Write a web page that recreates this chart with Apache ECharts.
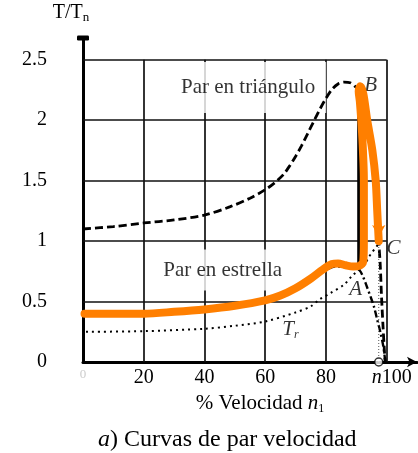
<!DOCTYPE html>
<html>
<head>
<meta charset="utf-8">
<title>Curvas de par velocidad</title>
<script src="https://cdn.jsdelivr.net/npm/echarts@6/dist/echarts.min.js"></script>
<style>
  html, body { margin: 0; padding: 0; background: #fff; }
  #main { width: 418px; height: 453px; }
</style>
</head>
<body>
<div id="main"></div>
<script>
// ejes
var xTicks = [0, 20, 40, 60, 80, 100]
var yTicks = [0, 0.5, 1, 1.5, 2, 2.5]

// curvas: [% velocidad, T/Tn]
var parTriangulo = [
  [0, 1.10], [10, 1.12], [20, 1.15], [30, 1.175], [40, 1.215], [48.5, 1.285], [55, 1.355],
  [60, 1.425], [63, 1.48], [66, 1.55], [68, 1.62], [70, 1.70], [72, 1.79], [74, 1.89],
  [76, 1.99], [78, 2.09], [80, 2.18], [82, 2.255], [84, 2.30], [86, 2.315], [88, 2.31],
  [90, 2.27], [91.5, 2.22], [92.8, 2.08], [94, 1.92], [95.5, 1.72], [96.5, 1.5],
  [97, 1.25], [97.4, 1.0], [97.9, 0.8], [98.3, 0.55], [98.8, 0.3], [99.2, 0.12], [99.5, 0]
]
var parEstrella = [
  [0, 0.39], [20, 0.39], [40, 0.42], [50, 0.45], [60, 0.50], [65, 0.54], [70, 0.60],
  [75, 0.68], [80, 0.76], [83, 0.79], [86, 0.785], [89, 0.775], [91, 0.76], [92, 0.72],
  [93.1, 0.65], [94.7, 0.54], [95.8, 0.46], [96.9, 0.35], [98, 0.24], [98.9, 0.13],
  [99.5, 0.02], [99.7, 0]
]
var parResistente = [
  [1, 0.25], [20, 0.255], [40, 0.275], [50, 0.30], [60, 0.335], [70, 0.41], [75, 0.46],
  [78, 0.52], [81.5, 0.57], [86, 0.64], [88.5, 0.71], [92.5, 0.80], [94.2, 0.87],
  [95.3, 0.91], [96.4, 0.945], [97.4, 0.98]
]
// recorrido del arranque estrella-triángulo (trazo naranja)
var arranque = [
  [0.5, 0.40], [10, 0.40], [20, 0.40], [30, 0.415], [40, 0.435], [50, 0.465], [60, 0.51],
  [65, 0.55], [70, 0.61], [75, 0.69], [79, 0.765], [82, 0.81], [84, 0.815], [86.5, 0.80],
  [89, 0.79], [91, 0.795], [92.3, 0.83], [92.5, 1.0], [92.5, 1.5], [91.9, 1.9], [91.2, 2.15],
  [90.8, 2.24], [91.3, 2.28], [92.3, 2.22], [93.6, 2.0], [95.3, 1.75], [96.4, 1.5],
  [96.9, 1.25], [97.2, 1.1], [97.4, 1.0]
]
var conmutacion = [[90.8, 0.76], [90.8, 2.27]] // A -> B
var nVelocidad = 97.4
var nPar = 0.98

var serif = '"Liberation Serif", "DejaVu Serif", serif'
var xMax = xTicks[xTicks.length - 1]
var yMax = yTicks[yTicks.length - 1]

// rejilla hasta 100 % y 2.5
var rejilla = []
yTicks.slice(1).forEach(function (y) {
  rejilla.push([{ coord: [0, y] }, { coord: [xMax, y] }])
})
xTicks.slice(1).forEach(function (x) {
  rejilla.push([{ coord: [x, 0] }, { coord: [x, yMax] }])
})

var ultimo = arranque[arranque.length - 1]
var arranqueData = arranque.slice(0, -1).concat([
  { value: ultimo, symbol: 'arrow', symbolSize: [10, 12], symbolRotate: 180, symbolOffset: [0, -4] }
])

var chart = echarts.init(document.getElementById('main'))
chart.setOption({
  animation: false,
  backgroundColor: '#fff',
  title: {
    text: '{i|a}) Curvas de par velocidad',
    left: 93,
    top: 423,
    textStyle: {
      fontFamily: serif, fontSize: 24, fontWeight: 'normal', color: '#000',
      rich: { i: { fontFamily: serif, fontSize: 24, fontStyle: 'italic', color: '#000' } }
    }
  },
  grid: { left: 83, right: 1, top: 38, bottom: 91, containLabel: false, outerBoundsMode: 'none' },
  xAxis: {
    type: 'value',
    min: 0,
    max: 110,
    interval: 20,
    name: '% Velocidad {i|n}{s|1}',
    nameLocation: 'middle',
    nameGap: 17,
    nameTextStyle: {
      fontFamily: serif, fontSize: 21, color: '#000', padding: [0, 0, 0, 20],
      rich: {
        i: { fontFamily: serif, fontSize: 21, fontStyle: 'italic', color: '#000' },
        s: { fontFamily: serif, fontSize: 12, color: '#000', padding: [11, 0, 0, 0] }
      }
    },
    axisLine: {
      show: true,
      symbol: ['none', 'arrow'],
      symbolSize: [8, 10],
      lineStyle: { color: '#000', width: 3 }
    },
    axisTick: { show: false },
    splitLine: { show: false },
    axisLabel: {
      margin: 6,
      fontFamily: serif,
      fontSize: 20,
      color: '#000',
      formatter: function (v) {
        if (v > xMax) return ''
        if (v === 0) return '{f|0}'
        if (v === xMax) return '{n|n}' + v
        return v
      },
      rich: {
        n: { fontFamily: serif, fontSize: 20, fontStyle: 'italic', color: '#000', padding: [0, 0, 0, 10] },
        f: { fontFamily: serif, fontSize: 13, color: '#ccc' }
      }
    }
  },
  yAxis: {
    type: 'value',
    min: 0,
    max: 2.68,
    interval: 0.5,
    name: '{a|T/T}{b|n}',
    nameLocation: 'end',
    nameGap: 14,
    nameTextStyle: {
      align: 'center',
      padding: [0, 24, 0, 0],
      rich: {
        a: { fontFamily: serif, fontSize: 20, color: '#000' },
        b: { fontFamily: serif, fontSize: 13, color: '#000', padding: [9, 0, 0, 0] }
      }
    },
    axisLine: {
      show: true,
      symbol: ['none', 'roundRect'],
      symbolSize: [12, 5],
      lineStyle: { color: '#000', width: 3 }
    },
    axisTick: { show: false },
    splitLine: { show: false },
    axisLabel: {
      margin: 36,
      fontFamily: serif,
      fontSize: 20,
      color: '#000',
      formatter: function (v) {
        return yTicks.indexOf(v) >= 0 ? String(v) : ''
      }
    }
  },
  series: [
    {
      name: 'rejilla',
      type: 'line',
      data: [],
      z: 1,
      markLine: {
        z: 1,
        silent: true,
        symbol: ['none', 'none'],
        label: { show: false },
        lineStyle: { type: 'solid', color: '#111', width: 1.7 },
        data: rejilla
      }
    },
    {
      name: 'rótulos',
      type: 'scatter',
      z: 2,
      silent: true,
      clip: false,
      symbolSize: 0,
      label: {
        show: true,
        position: 'inside',
        fontFamily: serif,
        fontSize: 21,
        color: '#000'
      },
      data: [
        { value: [55.2, 2.27], label: { formatter: 'Par en triángulo', backgroundColor: '#fff', padding: [15, 11, 15, 6] } },
        { value: [46, 0.76], label: { formatter: 'Par en estrella', backgroundColor: '#fff', padding: [10, 6] } },
        { value: [94.7, 2.29], label: { formatter: 'B', fontStyle: 'italic' } },
        { value: [102.3, 0.94], label: { formatter: 'C', fontStyle: 'italic' } },
        { value: [89.8, 0.60], label: { formatter: 'A', fontStyle: 'italic' } },
        {
          value: [68.3, 0.265],
          label: {
            formatter: '{t|T}{r|r}',
            rich: {
              t: { fontFamily: serif, fontSize: 21, fontStyle: 'italic', color: '#000' },
              r: { fontFamily: serif, fontSize: 12, fontStyle: 'italic', color: '#000', padding: [9, 0, 0, 0] }
            }
          }
        }
      ]
    },
    {
      name: 'Par en triángulo',
      type: 'line',
      z: 3,
      data: parTriangulo,
      smooth: 0.3,
      symbol: 'none',
      lineStyle: { color: '#000', width: 2.8, type: [8, 4] }
    },
    {
      name: 'Par en estrella',
      type: 'line',
      z: 3,
      data: parEstrella,
      smooth: 0.3,
      symbol: 'none',
      lineStyle: { color: '#000', width: 2.4, type: [7, 3, 2, 3] }
    },
    {
      name: 'Tr',
      type: 'line',
      z: 3,
      data: parResistente,
      smooth: 0.3,
      symbol: 'none',
      lineStyle: { color: '#000', width: 2, type: [2, 4] }
    },
    {
      name: 'conmutación',
      type: 'line',
      z: 3,
      data: conmutacion,
      symbol: 'none',
      lineStyle: { color: '#000', width: 3 }
    },
    {
      name: 'n',
      type: 'line',
      z: 3,
      data: [[nVelocidad, 0], [nVelocidad, nPar]],
      symbol: 'none',
      lineStyle: { color: '#555', width: 1, type: [1, 2] }
    },
    {
      name: 'arranque',
      type: 'line',
      z: 4,
      data: arranqueData,
      smooth: 0.3,
      symbol: 'none',
      showSymbol: true,
      itemStyle: { color: '#ff7f00' },
      lineStyle: { color: '#ff7f00', width: 8, cap: 'round', join: 'round' }
    },
    {
      name: 'punto n',
      type: 'scatter',
      z: 5,
      clip: false,
      data: [[nVelocidad, 0]],
      symbol: 'circle',
      symbolSize: 8,
      itemStyle: { color: '#fff', borderColor: '#000', borderWidth: 1.5 }
    }
  ]
})
</script>
</body>
</html>
